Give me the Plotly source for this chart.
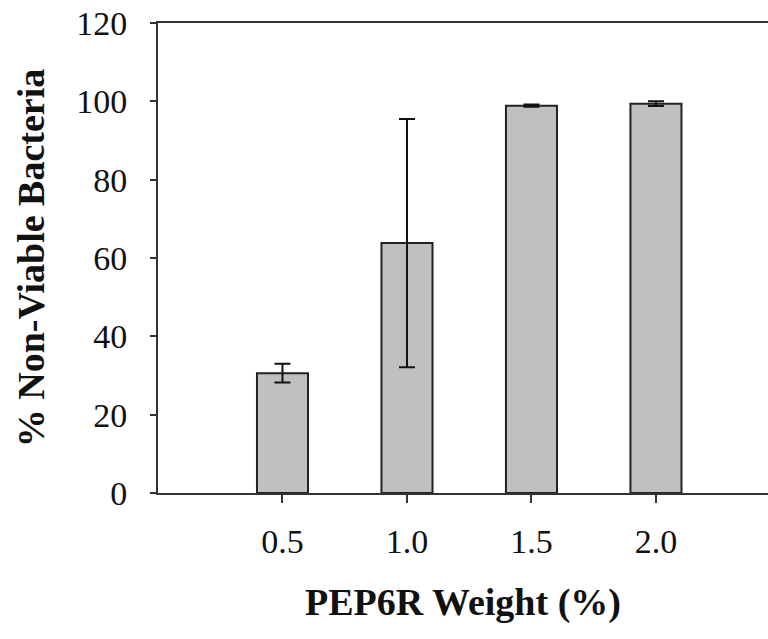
import plotly.graph_objects as go

categories = ["0.5", "1.0", "1.5", "2.0"]
values = [30.6, 63.8, 98.9, 99.4]
errors = [2.4, 31.7, 0.3, 0.6]
y_ticks = [0, 20, 40, 60, 80, 100, 120]

fig = go.Figure()
fig.add_trace(go.Bar(
    x=categories, y=values, width=0.41,
    marker=dict(color="#c0c0c0", line=dict(color="#222222", width=2)),
    error_y=dict(type="data", array=errors, visible=True, color="#111111", thickness=2, width=8),
))

font_family = "Liberation Serif, Times New Roman, serif"
fig.update_layout(
    width=768, height=639,
    margin=dict(l=158, r=0, t=23, b=146),
    plot_bgcolor="white", paper_bgcolor="white",
    showlegend=False,
    font=dict(family=font_family, color="#111111"),
    xaxis=dict(
        range=[-1.0, 3.9], showline=True, linecolor="#333333", linewidth=2, mirror=True,
        ticks="outside", ticklen=8, tickwidth=2, tickcolor="#333333",
        tickfont=dict(size=34, family=font_family), ticklabelstandoff=9,
        showgrid=False, zeroline=False,
        title=dict(text="<b>PEP6R Weight (%)</b>", font=dict(size=38, family=font_family), standoff=30),
    ),
    yaxis=dict(
        range=[0, 120], tickvals=y_ticks, showline=True, linecolor="#333333", linewidth=2,
        ticks="outside", ticklen=6, tickwidth=2, tickcolor="#333333",
        tickfont=dict(size=34, family=font_family), ticklabelstandoff=16,
        showgrid=False, zeroline=False,
        title=dict(text="<b>% Non-Viable Bacteria</b>", font=dict(size=38, family=font_family), standoff=20),
    ),
)
fig.write_html("out.html")
